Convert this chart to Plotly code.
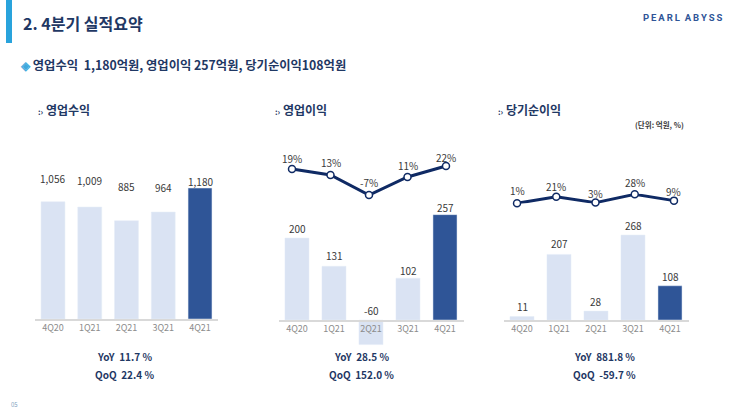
import plotly.graph_objects as go

W, H = 743, 408

# ---------------- data ----------------
quarters = ["4Q20", "1Q21", "2Q21", "3Q21", "4Q21"]
revenue = [1056, 1009, 885, 964, 1180]
op_profit = [200, 131, -60, 102, 257]
op_margin = [19, 13, -7, 11, 22]
net_income = [11, 207, 28, 268, 108]
net_margin = [1, 21, 3, 28, 9]
revenue_labels = ["1,056", "1,009", "885", "964", "1,180"]
yoy_qoq = [("11.7", "22.4"), ("28.5", "152.0"), ("881.8", "-59.7")]
panel_titles = ["영업수익", "영업이익", "당기순이익"]

# ---------------- styles ----------------
LIGHT = "#dae3f3"
DARK = "#2f5597"
NAVY = "#1f3864"
LINE = "#0f2a64"
TXT = "#3a3a3a"
TICK = "#8c8c8c"
FONT = "Noto Sans CJK KR"
bar_colors = [LIGHT, LIGHT, LIGHT, LIGHT, DARK]
rev_label_shift = [23, 27, 34, 25, 7]
op_label_shift = [10, 11, 10, 8, 7]
ni_label_shift = [10, 11, 10, 10, 9]
opm_label_shift = [11, 13, 13, 12, 9]
nim_label_shift = [13, 10, 9, 12, 9]


def fx(px):
    return px / W


def fy(py):
    return 1 - py / H


fig = go.Figure()

# bars
fig.add_trace(go.Bar(x=quarters, y=revenue, marker_color=bar_colors, width=0.65,
                     xaxis="x", yaxis="y", hoverinfo="skip"))
fig.add_trace(go.Bar(x=quarters, y=op_profit, marker_color=bar_colors, width=0.65,
                     xaxis="x2", yaxis="y2", hoverinfo="skip"))
fig.add_trace(go.Bar(x=quarters, y=net_income, marker_color=bar_colors, width=0.65,
                     xaxis="x3", yaxis="y3", hoverinfo="skip"))
# lines
for xa, ya, vals in [("x4", "y4", op_margin), ("x5", "y5", net_margin)]:
    fig.add_trace(go.Scatter(x=quarters, y=vals, mode="lines+markers", xaxis=xa, yaxis=ya,
                             line=dict(color=LINE, width=3),
                             marker=dict(size=7, color="white", line=dict(color=LINE, width=1.5)),
                             cliponaxis=False, hoverinfo="skip"))


def xax(left, right, base_px, show=True):
    return dict(domain=[fx(left), fx(right)], range=[-0.5, 4.5], type="category",
                categoryorder="array", categoryarray=quarters,
                anchor="free", position=fy(base_px),
                showline=show, linecolor="#d9d9d9", linewidth=1.5,
                showgrid=False, zeroline=False, ticks="",
                showticklabels=show, tickfont=dict(family=FONT, size=9, color=TICK),
                fixedrange=True)


def yax(rng, top_px, bot_px):
    return dict(domain=[fy(bot_px), fy(top_px)], range=rng, visible=False,
                showgrid=False, zeroline=False, fixedrange=True)


layout = dict(
    width=W, height=H, margin=dict(l=0, r=0, t=0, b=0),
    paper_bgcolor="white", plot_bgcolor="rgba(0,0,0,0)", showlegend=False,
    bargap=0.35,
    xaxis=xax(34.6, 218.4, 319),
    yaxis=yax([0, 1300], 319 - 1300 * 0.111, 319),
    xaxis2=xax(278.5, 463.5, 320),
    yaxis2=yax([-70, 300], 320 - 300 * 0.41, 320 + 70 * 0.41),
    xaxis3=xax(503.5, 688.5, 320),
    yaxis3=yax([0, 300], 320 - 300 * 0.317, 320),
    xaxis4=dict(xax(272.75, 465.25, 200, show=False), anchor="y4"),
    yaxis4=yax([-10, 25], 163, 198),
    xaxis5=dict(xax(497.4, 693.6, 205, show=False), anchor="y5"),
    yaxis5=yax([0, 30], 193.7, 203.6),
)
for k in ["xaxis4", "xaxis5"]:
    layout[k].pop("position", None)
fig.update_layout(**layout)

ann = []


def add_text(text, x, y, size, color, xanchor="left", bold=False, xref="paper", yref="paper",
             yshift=0, family=FONT, yanchor="middle"):
    ann.append(dict(text=f"<b>{text}</b>" if bold else text, x=x, y=y, xref=xref, yref=yref,
                    xanchor=xanchor, yanchor=yanchor, showarrow=False, yshift=yshift,
                    font=dict(family=family, size=size, color=color)))


# header
add_text("2. 4분기 실적요약", fx(21), fy(23), 16, NAVY, bold=True)
add_text("\u2009".join("PEARL") + "\u2002" + "\u2009".join("ABYSS"), fx(725), fy(18), 9.5,
         "#2f5597", xanchor="right", bold=True, family="Roboto")
add_text("<span style='color:#3fa9dd'>◈</span> 영업수익  1,180억원, 영업이익 257억원, 당기순이익108억원",
         fx(18), fy(65), 12.3, NAVY, bold=True)
add_text("05", fx(9), fy(404), 6, "#7f9fc0")

# panel headers
for title, xl in zip(panel_titles, [36, 273, 496]):
    add_text(f"<span style='font-size:8px'>:›</span> {title}", fx(xl), fy(110), 12, NAVY, bold=True)
add_text("(단위: 억원, %)", fx(686), fy(124), 7.5, TXT, xanchor="right", bold=True)

# value labels
for q, v, lab, s in zip(quarters, revenue, revenue_labels, rev_label_shift):
    add_text(lab, q, v, 10, TXT, xanchor="center", xref="x", yref="y", yshift=s)
for q, v, s in zip(quarters, op_profit, op_label_shift):
    add_text(f"{v}", q, max(v, 0), 10, TXT, xanchor="center", xref="x2", yref="y2", yshift=s)
for q, v, s in zip(quarters, net_income, ni_label_shift):
    add_text(f"{v}", q, v, 10, TXT, xanchor="center", xref="x3", yref="y3", yshift=s)
for q, v, s in zip(quarters, op_margin, opm_label_shift):
    add_text(f"{v}%", q, v, 10, TXT, xanchor="center", xref="x4", yref="y4", yshift=s)
for q, v, s in zip(quarters, net_margin, nim_label_shift):
    add_text(f"{v}%", q, v, 10, TXT, xanchor="center", xref="x5", yref="y5", yshift=s)

# YoY / QoQ
for (yoy, qoq), cx in zip(yoy_qoq, [125, 361, 604]):
    add_text(f"YoY  {yoy} %", fx(cx), fy(356), 10, NAVY, xanchor="center", bold=True)
    add_text(f"QoQ  {qoq} %", fx(cx), fy(374), 10, NAVY, xanchor="center", bold=True)

fig.update_layout(annotations=ann,
                  shapes=[dict(type="rect", xref="paper", yref="paper", x0=fx(6), x1=fx(12),
                               y0=fy(43), y1=fy(0), fillcolor="#29a3dc", line=dict(width=0))])

fig.write_html("out.html", config={"displayModeBar": False, "staticPlot": True},
               post_script="document.body.style.margin='0';document.body.style.overflow='hidden';")
